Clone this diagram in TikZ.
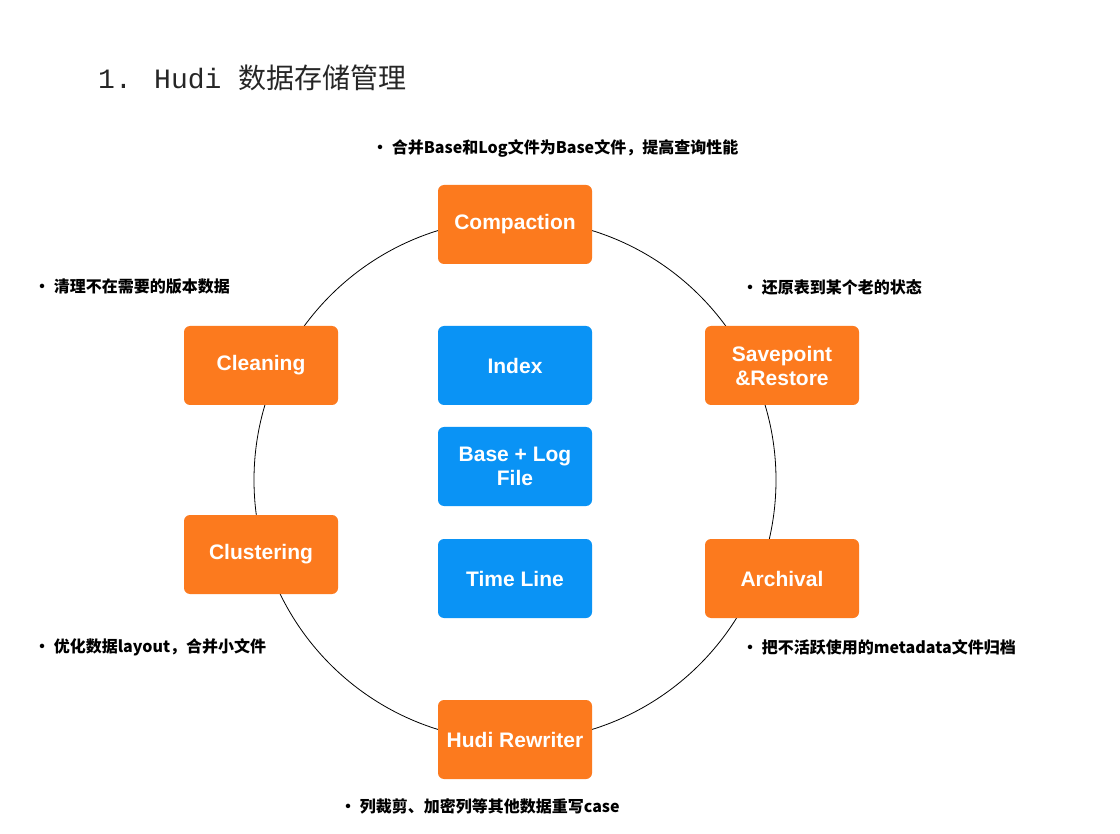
\documentclass[tikz,border=0pt]{standalone}
\usepackage{fontspec}
\setmainfont{Liberation Sans}
\newfontfamily\cjk{Noto Sans CJK SC}
\newfontfamily\mono{Liberation Mono}
\definecolor{org}{HTML}{FC7A1E}
\definecolor{blu}{HTML}{0A93F5}
\begin{document}
\begin{tikzpicture}[x=1pt,y=-1pt,
  box/.style={rounded corners=6pt,minimum width=154pt,minimum height=79pt,text=white,font=\fontsize{21}{24}\selectfont\bfseries,align=center,inner sep=0pt},
  ob/.style={box,fill=org},
  bb/.style={box,fill=blu},
  note/.style={font=\cjk\fontsize{16}{19}\selectfont\bfseries,anchor=west,inner sep=0pt}]
\useasboundingbox (0,0) rectangle (1120,834);
\fill[white] (0,0) rectangle (1120,834);
\node[anchor=west,inner sep=0pt,font=\fontsize{28}{32}\selectfont,text=black!85] (title) at (98,78) {{\mono 1. Hudi }{\cjk 数据存储管理}};
\node[circle,draw=black,line width=0.8pt,minimum size=522pt,inner sep=0pt] (ring) at (515,480) {};
\node[ob] (comp) at (515,224.5) {Compaction};
\node[ob] (clean) at (261,365.5) {Cleaning};
\node[bb] (index) at (515,365.5) {Index};
\node[ob] (save) at (782,365.5) {Savepoint\\\&Restore};
\node[bb] (base) at (515,466.5) {Base + Log\\File};
\node[ob] (clus) at (261,554.5) {Clustering};
\node[bb] (time) at (515,578.5) {Time Line};
\node[ob] (arch) at (782,578.5) {Archival};
\node[ob] (rew) at (515,739.5) {Hudi Rewriter};
\node[note] (n1) at (372,148) {• 合并Base和Log文件为Base文件，提高查询性能};
\node[note] (n2) at (34,287) {• 清理不在需要的版本数据};
\node[note] (n3) at (742,287) {• 还原表到某个老的状态};
\node[note] (n4) at (34,647) {• 优化数据layout，合并小文件};
\node[note] (n5) at (742,647) {• 把不活跃使用的metadata文件归档};
\node[note] (n6) at (340,806) {• 列裁剪、加密列等其他数据重写case};
\end{tikzpicture}
\end{document}
